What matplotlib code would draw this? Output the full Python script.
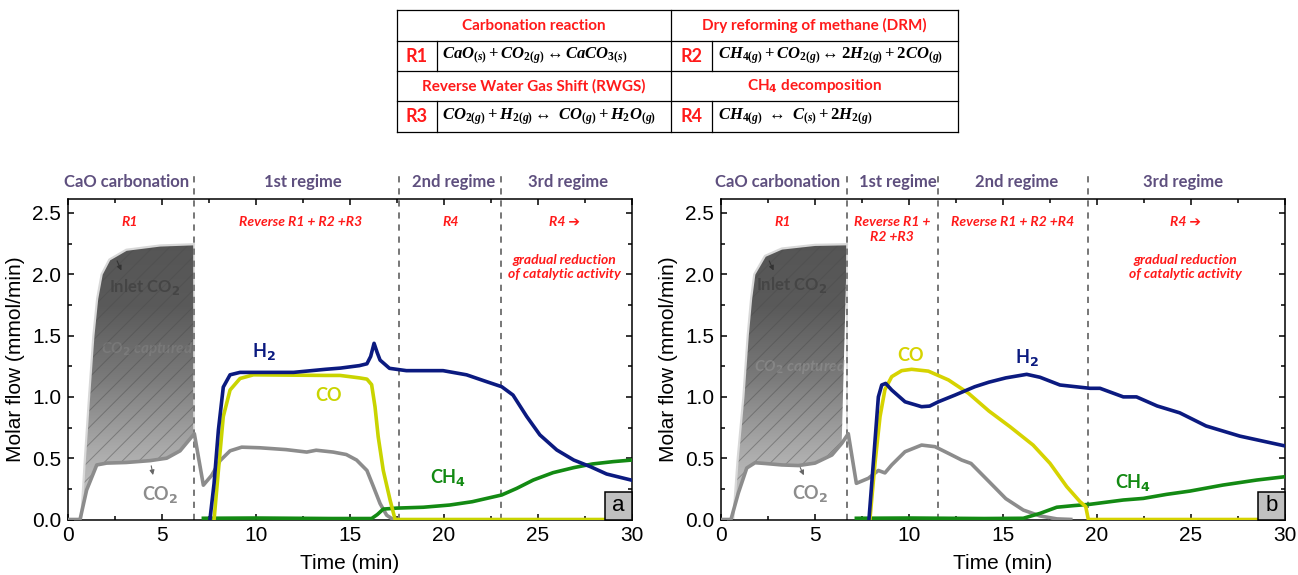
import numpy as np
import matplotlib
matplotlib.use('Agg')
import matplotlib.pyplot as plt
from matplotlib.patches import Polygon, Rectangle
import matplotlib.ticker as mt

plt.rcParams['mathtext.fontset'] = 'custom'
plt.rcParams['mathtext.it'] = 'Liberation Serif:italic:bold'
plt.rcParams['mathtext.rm'] = 'Liberation Serif:bold'
plt.rcParams['mathtext.bf'] = 'Liberation Serif:bold'
plt.rcParams['hatch.linewidth'] = 0.7

NARROW = ['Liberation Sans Narrow', 'Liberation Sans', 'DejaVu Sans']
LABF = ['Lato', 'DejaVu Sans']

# ---------------- data: panel a ----------------
a_inlet_t = [0.7, 0.9, 1.12, 1.35, 1.55, 1.79, 2.2, 3.1, 4.9, 6.7]
a_inlet_v = [0.0, 0.5, 1.0, 1.5, 1.8, 2.0, 2.12, 2.2, 2.235, 2.245]
a_co2_t = [0.0, 0.64, 0.99, 1.53, 2.06, 3.1, 4.36, 5.25, 5.96, 6.72, 7.2, 7.64, 8.09, 8.62,
           9.24, 10.2, 11.6, 12.7, 13.2, 14.1, 14.8, 15.35, 15.9, 16.24, 16.6, 16.95, 17.3, 17.6]
a_co2_v = [0.0, 0.0, 0.24, 0.445, 0.46, 0.465, 0.48, 0.50, 0.56, 0.70, 0.28, 0.36, 0.48, 0.56,
           0.59, 0.585, 0.57, 0.55, 0.565, 0.55, 0.53, 0.485, 0.40, 0.27, 0.13, 0.035, 0.0, 0.0]
a_h2_t = [7.55, 7.77, 8.0, 8.26, 8.62, 9.15, 12.0, 13.7, 14.5, 15.5, 15.9, 16.1, 16.28, 16.45,
          16.6, 17.1, 18.0, 19.95, 21.2, 22.27, 23.07, 23.67, 24.4, 25.1, 26.0, 26.9, 27.8, 28.65, 30.0]
a_h2_v = [0.0, 0.295, 0.73, 1.08, 1.18, 1.20, 1.20, 1.225, 1.235, 1.255, 1.27, 1.33, 1.437, 1.36,
          1.30, 1.233, 1.214, 1.214, 1.18, 1.124, 1.083, 1.015, 0.84, 0.69, 0.567, 0.485, 0.43, 0.371, 0.32]
a_co_t = [7.77, 8.0, 8.26, 8.62, 9.15, 9.86, 13.7, 14.47, 15.5, 15.9, 16.15, 16.33, 16.5, 16.77,
          17.13, 17.4, 30.0]
a_co_v = [0.0, 0.40, 0.84, 1.056, 1.15, 1.18, 1.175, 1.175, 1.155, 1.145, 1.10, 0.92, 0.675, 0.40,
          0.16, 0.0, 0.0]
a_ch4_t = [7.2, 10.0, 14.0, 16.15, 16.45, 16.77, 17.5, 18.9, 20.3, 21.5, 23.07, 23.87, 24.75,
           25.8, 26.9, 27.9, 29.0, 30.0]
a_ch4_v = [0.01, 0.012, 0.008, 0.008, 0.04, 0.085, 0.093, 0.10, 0.118, 0.145, 0.20, 0.254, 0.322,
           0.382, 0.423, 0.453, 0.472, 0.485]
a_bounds = [6.7, 17.6, 23.05]

# ---------------- data: panel b ----------------
b_inlet_t = [0.65, 0.89, 1.19, 1.42, 1.6, 1.77, 2.34, 3.23, 5.0, 6.7]
b_inlet_v = [0.0, 0.5, 1.0, 1.5, 1.8, 2.0, 2.15, 2.21, 2.24, 2.245]
b_co2_t = [0.0, 0.53, 0.92, 1.37, 1.81, 2.34, 3.23, 4.11, 5.0, 5.9, 6.42, 6.77, 7.2, 7.84, 8.37,
           8.72, 9.08, 9.79, 10.67, 11.38, 12.09, 12.8, 13.3, 14.25, 15.15, 16.08, 16.97, 17.86, 18.7]
b_co2_v = [0.0, 0.0, 0.215, 0.42, 0.463, 0.457, 0.445, 0.44, 0.46, 0.526, 0.62, 0.70, 0.295, 0.336,
           0.40, 0.38, 0.445, 0.553, 0.607, 0.594, 0.54, 0.485, 0.457, 0.31, 0.17, 0.077, 0.029, 0.005, 0.0]
b_h2_t = [7.87, 8.1, 8.37, 8.55, 8.76, 9.08, 9.79, 10.67, 11.1, 11.56, 12.45, 13.5, 14.25, 15.15,
          16.26, 16.97, 18.03, 19.63, 20.16, 21.4, 22.1, 23.2, 24.4, 25.8, 27.6, 30.0]
b_h2_v = [0.0, 0.458, 1.0, 1.097, 1.11, 1.056, 0.96, 0.92, 0.925, 0.96, 1.015, 1.083, 1.12, 1.155,
          1.184, 1.16, 1.097, 1.07, 1.07, 1.0, 1.0, 0.926, 0.87, 0.763, 0.68, 0.60]
b_co_t = [7.92, 8.19, 8.46, 8.72, 9.08, 9.61, 10.14, 11.03, 12.1, 13.16, 14.25, 15.37, 16.6, 17.5,
          18.39, 19.1, 19.4, 19.54, 30.0]
b_co_v = [0.0, 0.458, 0.84, 1.06, 1.165, 1.214, 1.225, 1.21, 1.138, 1.03, 0.885, 0.757, 0.607,
          0.458, 0.268, 0.145, 0.105, 0.0, 0.0]
b_ch4_t = [7.2, 10.0, 14.0, 16.08, 16.97, 17.86, 18.74, 19.63, 21.4, 22.46, 23.7, 24.95, 26.7, 28.5, 30.0]
b_ch4_v = [0.01, 0.012, 0.008, 0.01, 0.05, 0.10, 0.113, 0.124, 0.159, 0.172, 0.205, 0.232, 0.281,
           0.322, 0.349]
b_bounds = [6.7, 11.55, 19.5]

regime_names = ['CaO carbonation', '1st regime', '2nd regime', '3rd regime']

C_H2 = '#0b1a80'
C_CH4 = '#138a13'
C_CO2 = '#8c8c8c'
C_REG = '#5e4f7e'
C_RED = '#ff1a1a'

fig = plt.figure(figsize=(12.98, 5.75), dpi=100)

AX_H = (519.5 - 199) / 575
axL = fig.add_axes([68 / 1298, 1 - 519.5 / 575, 564 / 1298, AX_H])
axR = fig.add_axes([721 / 1298, 1 - 519.5 / 575, 564 / 1298, AX_H])

YTOP = 2.614


def style_axes(ax):
    ax.set_xlim(0, 30)
    ax.set_ylim(0, YTOP)
    ax.xaxis.set_major_locator(mt.MultipleLocator(5))
    ax.xaxis.set_minor_locator(mt.MultipleLocator(2.5))
    ax.yaxis.set_major_locator(mt.MultipleLocator(0.5))
    ax.yaxis.set_minor_locator(mt.MultipleLocator(0.25))
    ax.yaxis.set_major_formatter(mt.FormatStrFormatter('%.1f'))
    ax.tick_params(which='both', direction='in', top=True, right=True, width=1.1)
    ax.tick_params(which='major', length=4.5, pad=5)
    ax.tick_params(which='minor', length=3)
    for lab in ax.get_xticklabels() + ax.get_yticklabels():
        lab.set_family(NARROW)
        lab.set_fontsize(15)
    for s in ax.spines.values():
        s.set_linewidth(1.1)
    ax.set_xlabel('Time (min)', family=NARROW, fontsize=15, labelpad=6)
    ax.set_ylabel('Molar flow (mmol/min)', family=NARROW, fontsize=15, labelpad=5)


def shade(ax, inlet_t, inlet_v, co2_t, co2_v):
    t_end = inlet_t[-1]
    upper = list(zip(inlet_t, inlet_v))
    lower = [(t, v) for t, v in zip(co2_t, co2_v) if 0.3 < t <= t_end + 0.05]
    verts = upper + lower[::-1]
    poly = Polygon(verts, closed=True, facecolor='none', edgecolor='none')
    ax.add_patch(poly)
    grad = np.linspace(0, 1, 256).reshape(-1, 1)
    cmap = matplotlib.colors.LinearSegmentedColormap.from_list(
        'g', ['#cfcfcf', '#a9a9a9', '#7a7a7a', '#5a5a5a', '#555555'])
    im = ax.imshow(grad, extent=[0, t_end + 0.1, 0, 2.3], origin='lower', aspect='auto',
                   cmap=cmap, zorder=1, interpolation='bilinear')
    im.set_clip_path(poly)
    hp = Polygon(verts, closed=True, facecolor='none', edgecolor='#4a4a4a', hatch='//',
                 linewidth=0, alpha=0.45, zorder=1.5)
    ax.add_patch(hp)
    ax.plot(inlet_t, inlet_v, color='#d8d8d8', lw=1.6, zorder=1.6)
    ax.plot([inlet_t[-1], inlet_t[-1]], [inlet_v[-1], lower[-1][1]], color='#d8d8d8', lw=1.2,
            zorder=1.6)


def draw_panel(ax, inlet_t, inlet_v, co2_t, co2_v, h2_t, h2_v, co_t, co_v, ch4_t, ch4_v,
               bounds, co_color):
    style_axes(ax)
    shade(ax, inlet_t, inlet_v, co2_t, co2_v)
    lw = 2.6
    ax.plot(co2_t, co2_v, color=C_CO2, lw=lw, zorder=3, solid_capstyle='butt')
    ax.plot(ch4_t, ch4_v, color=C_CH4, lw=lw, zorder=4)
    ax.plot(co_t, co_v, color=co_color, lw=lw, zorder=5)
    ax.plot(h2_t, h2_v, color=C_H2, lw=lw, zorder=6)
    for b in bounds:
        ax.axvline(b, ymin=0, ymax=2.81 / YTOP, color='#777777', lw=1.4, dashes=(3.2, 3),
                   clip_on=False, zorder=2)


draw_panel(axL, a_inlet_t, a_inlet_v, a_co2_t, a_co2_v, a_h2_t, a_h2_v, a_co_t, a_co_v,
           a_ch4_t, a_ch4_v, a_bounds, '#c9d400')
draw_panel(axR, b_inlet_t, b_inlet_v, b_co2_t, b_co2_v, b_h2_t, b_h2_v, b_co_t, b_co_v,
           b_ch4_t, b_ch4_v, b_bounds, '#d6d300')


def sub_label(ax, x, y, base, sub, color, size=13):
    ax.text(x, y, base + r'$_\mathbf{' + sub + '}$', color=color, fontsize=size,
            fontweight='bold', family=LABF, ha='center', va='center', math_fontfamily='dejavusans',
            zorder=8)


def regimes(ax, xs):
    for x, name in zip(xs, regime_names):
        ax.text(x, 2.753, name, color=C_REG, fontsize=12, fontweight='bold', family=LABF,
                ha='center', va='center', clip_on=False)


def red(ax, x, y, s, size=10):
    ax.text(x, y, s, color=C_RED, fontsize=size, fontweight='bold', style='italic',
            family=LABF, ha='center', va='center', linespacing=1.25)


def panel_tag(ax, s):
    w, h = 27 / 564, 28 / 320.5
    ax.add_patch(Rectangle((1 - w, 0), w, h, transform=ax.transAxes, facecolor='#c0c0c0',
                           edgecolor='black', lw=1.1, zorder=9, clip_on=False))
    ax.text(1 - w / 2, h / 2, s, transform=ax.transAxes, ha='center', va='center',
            fontsize=16, family=NARROW, zorder=10)


# ---- panel a annotations ----
regimes(axL, [3.1, 12.5, 20.5, 26.6])
red(axL, 3.3, 2.43, 'R1')
red(axL, 12.35, 2.43, 'Reverse R1 + R2 +R3')
red(axL, 20.35, 2.43, 'R4')
red(axL, 26.4, 2.43, 'R4 ➔')
red(axL, 26.4, 2.06, 'gradual reduction\nof catalytic activity')
sub_label(axL, 10.4, 1.37, 'H', '2', C_H2)
sub_label(axL, 13.9, 1.035, 'CO', '', '#c9d400')
sub_label(axL, 20.2, 0.34, 'CH', '4', C_CH4)
sub_label(axL, 4.9, 0.2, 'CO', '2', C_CO2)
sub_label(axL, 4.05, 1.9, 'Inlet CO', '2', '#454545', size=12)
axL.text(4.2, 1.39, r'CO$_\mathbf{2}$ captured', color='#a8a8a8', alpha=0.22, fontsize=11,
         fontweight='bold', style='italic', family=LABF, ha='center', va='center',
         math_fontfamily='dejavusans', zorder=2)
axL.annotate('', xy=(2.9, 2.01), xytext=(2.55, 2.13),
             arrowprops=dict(arrowstyle='-|>', color='#333333', lw=0.8, mutation_scale=7), zorder=7)
axL.annotate('', xy=(4.55, 0.34), xytext=(4.4, 0.46),
             arrowprops=dict(arrowstyle='-|>', color='#666666', lw=0.8, mutation_scale=7), zorder=7)
panel_tag(axL, 'a')

# ---- panel b annotations ----
regimes(axR, [3.03, 9.4, 15.7, 24.6])
red(axR, 3.28, 2.43, 'R1')
red(axR, 9.1, 2.365, 'Reverse R1 +\nR2 +R3')
red(axR, 15.5, 2.43, 'Reverse R1 + R2 +R4')
red(axR, 24.7, 2.43, 'R4 ➔')
red(axR, 24.7, 2.06, 'gradual reduction\nof catalytic activity')
sub_label(axR, 10.1, 1.36, 'CO', '', '#d6d300')
sub_label(axR, 16.26, 1.32, 'H', '2', C_H2)
sub_label(axR, 21.9, 0.30, 'CH', '4', C_CH4)
sub_label(axR, 4.72, 0.215, 'CO', '2', C_CO2)
sub_label(axR, 3.76, 1.91, 'Inlet CO', '2', '#454545', size=12)
axR.text(4.2, 1.24, r'CO$_\mathbf{2}$ captured', color='#a8a8a8', alpha=0.35, fontsize=11,
         fontweight='bold', style='italic', family=LABF, ha='center', va='center',
         math_fontfamily='dejavusans', zorder=2)
axR.annotate('', xy=(2.86, 2.01), xytext=(2.5, 2.13),
             arrowprops=dict(arrowstyle='-|>', color='#333333', lw=0.8, mutation_scale=7), zorder=7)
axR.annotate('', xy=(4.47, 0.34), xytext=(4.15, 0.445),
             arrowprops=dict(arrowstyle='-|>', color='#666666', lw=0.8, mutation_scale=7), zorder=7)
panel_tag(axR, 'b')

# ---------------- reaction table ----------------
table_headers = ['Carbonation reaction', 'Dry reforming of methane (DRM)',
                 'Reverse Water Gas Shift (RWGS)', r'CH$_\mathbf{4}$ decomposition']
table_ids = ['R1', 'R2', 'R3', 'R4']
table_eqs = [r'$CaO_{(s)}+CO_{2(g)}\leftrightarrow CaCO_{3(s)}$',
             r'$CH_{4(g)}+CO_{2(g)}\leftrightarrow 2H_{2(g)}+2CO_{(g)}$',
             r'$CO_{2(g)}+H_{2(g)}\leftrightarrow\ CO_{(g)}+H_2O_{(g)}$',
             r'$CH_{4(g)}\ \leftrightarrow\ C_{(s)}+2H_{2(g)}$']

TW, TH = 561, 121.5
tab = fig.add_axes([397 / 1298, 1 - 131.5 / 575, TW / 1298, TH / 575])
tab.set_xlim(0, TW)
tab.set_ylim(TH, 0)
tab.axis('off')
rows = [0, 30.5, 61, 91, 121.5]
lk = dict(color='black', lw=0.9, clip_on=False)
for y in rows:
    tab.plot([0, TW], [y, y], **lk)
tab.plot([0, 0], [0, TH], **lk)
tab.plot([TW, TW], [0, TH], **lk)
tab.plot([274, 274], [0, TH], **lk)
for r0, r1 in [(rows[1], rows[2]), (rows[3], rows[4])]:
    tab.plot([40, 40], [r0, r1], **lk)
    tab.plot([315, 315], [r0, r1], **lk)

hdr_pos = [(137, 15.5), (417.5, 15.5), (137, 76), (417.5, 76)]
for (x, y), s in zip(hdr_pos, table_headers):
    tab.text(x, y, s, color=C_RED, fontsize=11, fontweight='bold', family=LABF,
             ha='center', va='center', math_fontfamily='dejavusans')
id_pos = [(20, 46), (294.5, 46), (20, 106.5), (294.5, 106.5)]
eq_pos = [(45, 46), (321, 46), (45, 106.5), (321, 106.5)]
for (x, y), s in zip(id_pos, table_ids):
    tab.text(x, y, s, color=C_RED, fontsize=13, fontweight='bold', family=LABF,
             ha='center', va='center')
for (x, y), s in zip(eq_pos, table_eqs):
    tab.text(x, y, s, fontsize=12, ha='left', va='center', math_fontfamily='custom')

fig.savefig('out.png', dpi=100)
